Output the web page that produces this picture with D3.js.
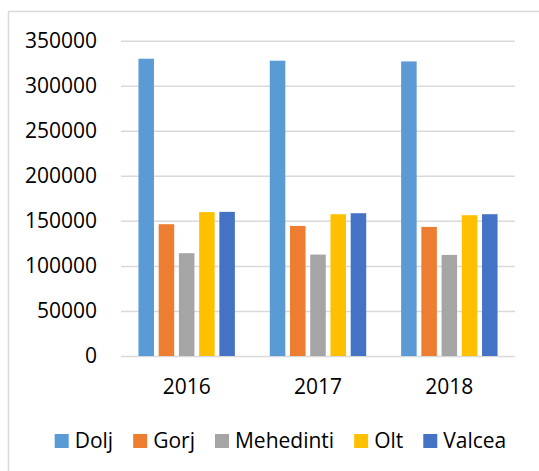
<!DOCTYPE html>
<html>
<head>
<meta charset="utf-8">
<script src="https://cdn.jsdelivr.net/npm/d3@7"></script>
<style>
  body { margin: 0; background: #fff; }
  text { font-family: "Open Sans", "Liberation Sans", Arial, sans-serif; }
</style>
</head>
<body>
<div id="chart"></div>
<script>
var years = ["2016", "2017", "2018"];
var counties = ["Dolj", "Gorj", "Mehedinti", "Olt", "Valcea"];
var dolj = [330000, 327800, 327000];
var gorj = [146300, 144400, 143300];
var mehedinti = [114100, 112600, 112200];
var olt = [159700, 157400, 156300];
var valcea = [160000, 158500, 157400];
var yTicks = [0, 50000, 100000, 150000, 200000, 250000, 300000, 350000];
var colors = ["#5b9bd5", "#ed7d31", "#a5a5a5", "#ffc000", "#4472c4"];

var series = [dolj, gorj, mehedinti, olt, valcea];

var width = 539, height = 471;
var margin = { top: 40.7, right: 24, bottom: 115, left: 121 },
    plot_w = width - margin.left - margin.right,
    plot_h = 356 - margin.top;
var fontSize = 21;
var fontFam = "'Open Sans', 'Liberation Sans', Arial, sans-serif";

var svg = d3.select("#chart").append("svg")
    .attr("width", width)
    .attr("height", height);

// chart area border
svg.append("rect")
    .attr("x", 8.5).attr("y", 11.5)
    .attr("width", 700).attr("height", 700)
    .attr("fill", "none")
    .attr("stroke", "#d9d9d9")
    .attr("stroke-width", 1.5);

var g = svg.append("g")
    .attr("transform", "translate(" + margin.left + "," + margin.top + ")");

var x0 = d3.scaleBand()
    .domain(years)
    .range([0, plot_w]);

var clusterW = x0.bandwidth() * 0.77;
var x1 = d3.scaleBand()
    .domain(counties)
    .range([0, clusterW])
    .paddingInner(0.233)
    .paddingOuter(0.1165);

var y = d3.scaleLinear()
    .domain([0, 350000])
    .range([plot_h, 0]);

// y axis + gridlines
var yAxis = g.append("g")
    .call(d3.axisLeft(y).tickValues(yTicks).tickSize(-plot_w).tickPadding(24).tickFormat(d3.format("d")));
yAxis.select(".domain").remove();
yAxis.selectAll("line")
    .attr("stroke", "#d9d9d9")
    .attr("stroke-width", 1.5);
yAxis.selectAll("text")
    .attr("font-size", fontSize)
    .attr("fill", "#000")
    .style("font-family", fontFam);

// x axis
var xAxis = g.append("g")
    .attr("transform", "translate(0," + plot_h + ")")
    .call(d3.axisBottom(x0).tickSize(0).tickPadding(23));
xAxis.select(".domain").remove();
xAxis.selectAll("text")
    .attr("font-size", fontSize)
    .attr("fill", "#000")
    .style("font-family", fontFam);

// bars
var groups = g.selectAll(".year")
    .data(years)
    .enter().append("g")
    .attr("class", "year")
    .attr("transform", function (d) { return "translate(" + (x0(d) + (x0.bandwidth() - clusterW) / 2) + ",0)"; });

groups.selectAll("rect")
    .data(function (d, i) {
        return counties.map(function (c, j) { return { name: c, value: series[j][i], color: colors[j] }; });
    })
    .enter().append("rect")
    .attr("x", function (d) { return x1(d.name); })
    .attr("y", function (d) { return y(d.value); })
    .attr("width", x1.bandwidth())
    .attr("height", function (d) { return plot_h - y(d.value); })
    .attr("fill", function (d) { return d.color; });

// legend
var legend = svg.append("g");
var lx = 0;
var items = legend.selectAll(".item")
    .data(counties)
    .enter().append("g")
    .attr("class", "item");
items.append("rect")
    .attr("width", 14).attr("height", 14)
    .attr("y", -7)
    .attr("fill", function (d, i) { return colors[i]; });
items.append("text")
    .attr("x", 20)
    .attr("dy", "0.35em")
    .attr("font-size", fontSize)
    .attr("fill", "#000")
    .style("font-family", fontFam)
    .text(function (d) { return d; });
items.each(function () {
    var w = this.getBBox().width;
    d3.select(this).attr("transform", "translate(" + lx + ",0)");
    lx += w + 20;
});
var legendW = lx - 20;
legend.attr("transform", "translate(" + (280.5 - legendW / 2) + ",441)");
</script>
</body>
</html>
